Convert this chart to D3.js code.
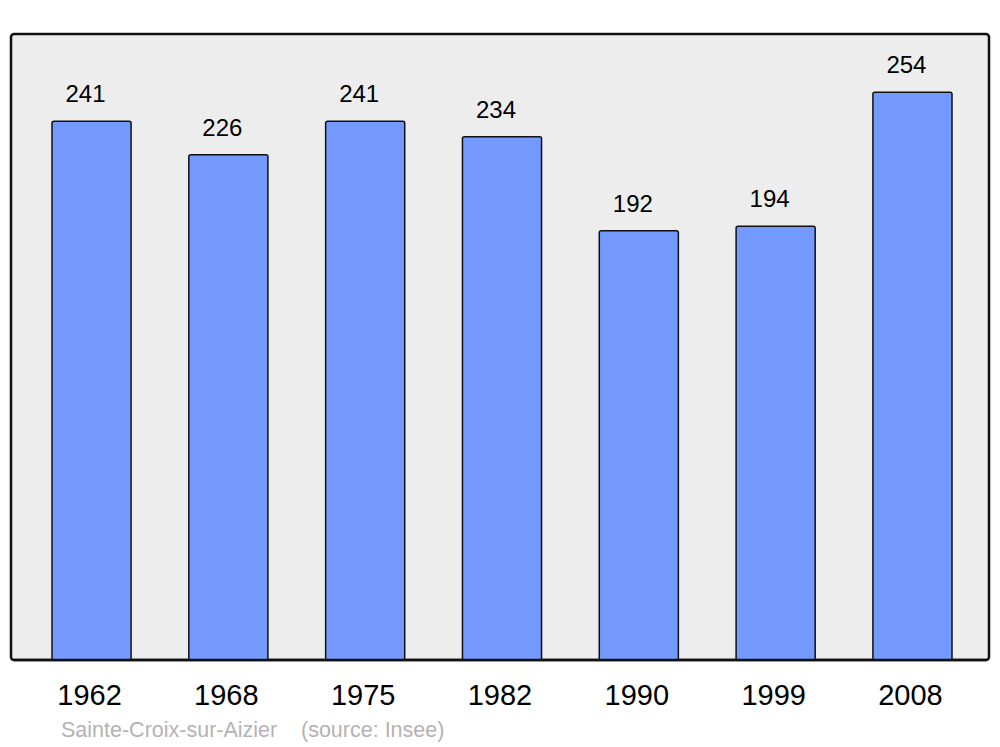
<!DOCTYPE html>
<html>
<head>
<meta charset="utf-8">
<script src="https://cdn.jsdelivr.net/npm/d3@7"></script>
<style>
  body { margin: 0; background: #fff; }
  text { font-family: "Liberation Sans", Arial, sans-serif; }
</style>
</head>
<body>
<svg id="chart" width="1000" height="747"></svg>
<script>
const years = ["1962", "1968", "1975", "1982", "1990", "1999", "2008"]
const population = [241, 226, 241, 234, 192, 194, 254]
const commune = "Sainte-Croix-sur-Aizier"
const source = "(source: Insee)"

const svg = d3.select('#chart')

const x = d3.scaleBand()
    .domain(years)
    .range([52, 952])
    .paddingInner(0.422)
    .paddingOuter(0)

const y = d3.scaleLinear()
    .domain([0, 280])
    .range([660, 34])

// fond du graphique
svg.append('rect')
    .attr('x', 11)
    .attr('y', y(280))
    .attr('width', 978)
    .attr('height', y(0) - y(280))
    .attr('rx', 3)
    .attr('fill', '#ededed')
    .attr('stroke', '#111')
    .attr('stroke-width', 2.5)

svg.append('g')
    .selectAll('rect')
    .data(population)
    .join('rect')
    .attr('x', (d, i) => x(years[i]))
    .attr('y', d => y(d))
    .attr('width', x.bandwidth())
    .attr('height', d => y(0) - y(d))
    .attr('rx', 2)
    .attr('fill', '#7499ff')
    .attr('stroke', '#111')
    .attr('stroke-width', 1.5)

// redessine la ligne du bas par-dessus les barres
svg.append('line')
    .attr('x1', 14).attr('x2', 986)
    .attr('y1', y(0)).attr('y2', y(0))
    .attr('stroke', '#111')
    .attr('stroke-width', 2.5)

svg.append('g')
    .selectAll('text')
    .data(population)
    .join('text')
    .attr('x', (d, i) => x(years[i]) + x.bandwidth() / 2 - 6)
    .attr('y', d => y(d) - 19)
    .attr('text-anchor', 'middle')
    .attr('font-size', 24)
    .attr('fill', '#000')
    .text(d => d)

svg.append('g')
    .selectAll('text')
    .data(years)
    .join('text')
    .attr('x', d => x(d) + x.bandwidth() / 2 - 2)
    .attr('y', 705)
    .attr('text-anchor', 'middle')
    .attr('font-size', 29)
    .attr('fill', '#000')
    .text(d => d)

svg.append('text')
    .attr('x', 61)
    .attr('y', 737)
    .attr('font-size', 21.5)
    .attr('fill', '#b3b3b3')
    .text(commune)

svg.append('text')
    .attr('x', 301)
    .attr('y', 737)
    .attr('font-size', 21.5)
    .attr('fill', '#b3b3b3')
    .text(source)
</script>
</body>
</html>
